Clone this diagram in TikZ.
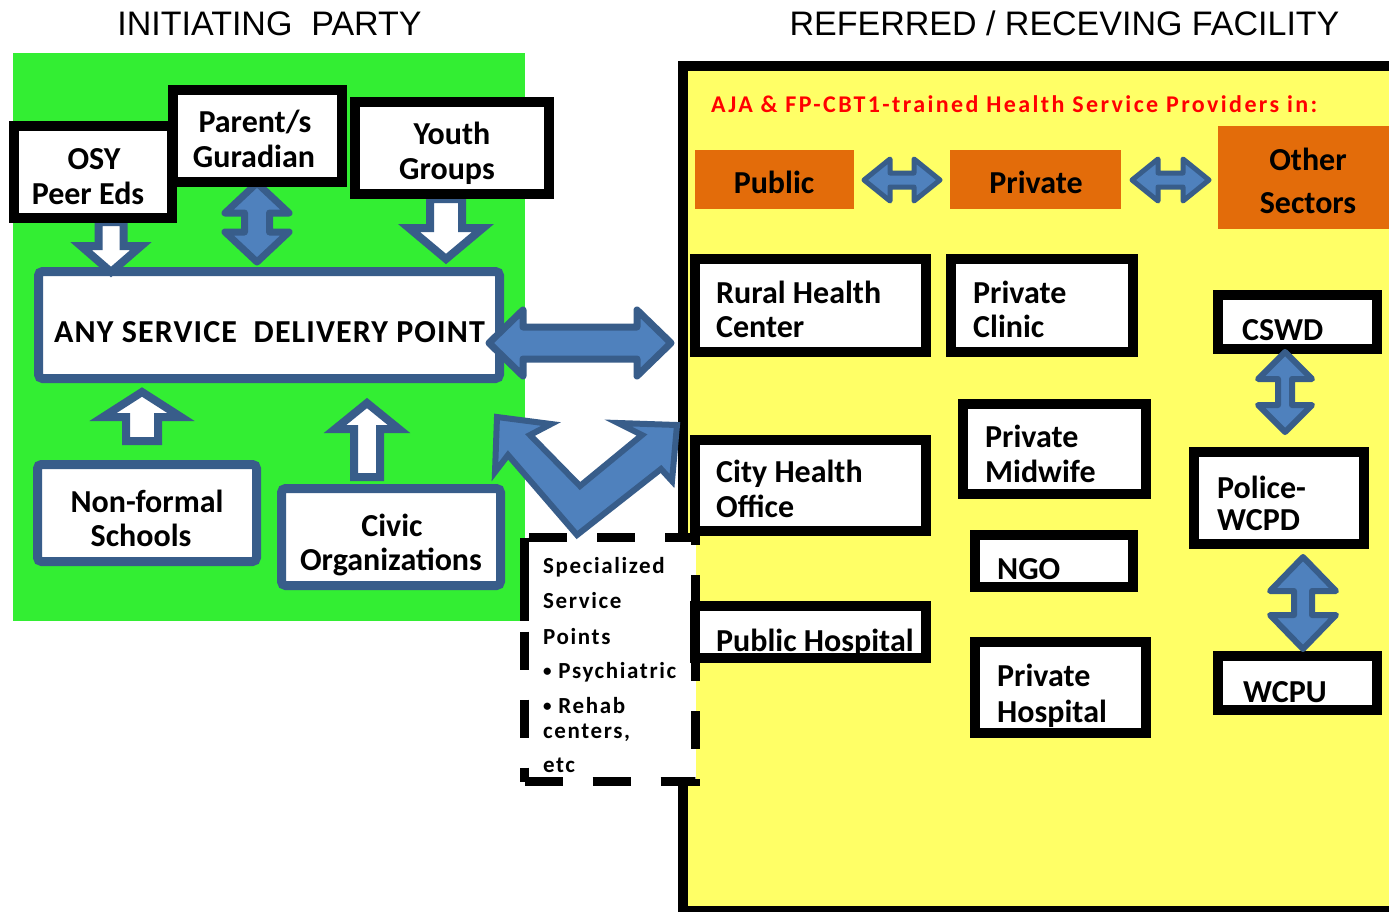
\documentclass[tikz,border=0pt]{standalone}
\usepackage{fontspec}
\setmainfont{Carlito}
\newfontfamily\titlefont{Liberation Sans}
\definecolor{grn}{RGB}{51,238,51}
\definecolor{ylw}{RGB}{255,255,102}
\definecolor{org}{RGB}{227,108,10}
\definecolor{abl}{RGB}{79,129,189}
\definecolor{aed}{RGB}{56,93,138}
% box: style, name, x1, y1, x2, y2 (path coordinates)
\newcommand\bx[6]{\node[#1, minimum width={#5-#3}, minimum height={#6-#4}] (#2) at ({(#3+#5)/2},{(#4+#6)/2}) {};}
% vertical double arrow: x, ytop, ybot, head half width, shaft half width, head length, style
\newcommand\vdbl[7]{\draw[#7] (#1,#2) -- ({#1+#4},{#2+#6}) -- ({#1+#5},{#2+#6}) -- ({#1+#5},{#3-#6}) -- ({#1+#4},{#3-#6}) -- (#1,#3) -- ({#1-#4},{#3-#6}) -- ({#1-#5},{#3-#6}) -- ({#1-#5},{#2+#6}) -- ({#1-#4},{#2+#6}) -- cycle;}
% horizontal double arrow: y, xleft, xright, hw, sw, hl, style
\newcommand\hdbl[7]{\draw[#7] (#2,#1) -- ({#2+#6},{#1-#4}) -- ({#2+#6},{#1-#5}) -- ({#3-#6},{#1-#5}) -- ({#3-#6},{#1-#4}) -- (#3,#1) -- ({#3-#6},{#1+#4}) -- ({#3-#6},{#1+#5}) -- ({#2+#6},{#1+#5}) -- ({#2+#6},{#1+#4}) -- cycle;}
% single vertical arrow: x, ystart, ytip, hw, sw, signed hl, style
\newcommand\sarr[7]{\draw[#7] ({#1-#5},#2) -- ({#1+#5},#2) -- ({#1+#5},{#3-(#6)}) -- ({#1+#4},{#3-(#6)}) -- (#1,#3) -- ({#1-#4},{#3-(#6)}) -- ({#1-#5},{#3-(#6)}) -- cycle;}
\newcommand\smbul{\raisebox{1.5pt}{\fontsize{17}{17}\selectfont •}}
\begin{document}
\begin{tikzpicture}[x=1pt,y=-1pt,
  blk/.style={draw=black, line width=10pt, fill=white, inner sep=0pt, outer sep=0pt},
  blu/.style={draw=aed, line width=9pt, fill=white, rounded corners=4pt, inner sep=0pt, outer sep=0pt},
  orng/.style={fill=org, inner sep=0pt, outer sep=0pt},
  dashbox/.style={draw=black, line width=9pt, fill=white, dash pattern=on 38pt off 30pt, inner sep=0pt},
  bt/.style={font=\fontsize{32}{34}\selectfont\bfseries, inner sep=0pt, anchor=base west},
  btc/.style={bt, anchor=base},
  spt/.style={font=\fontsize{23}{25}\selectfont\bfseries\addfontfeature{LetterSpace=7}, inner sep=0pt, anchor=base west},
  ttl/.style={font=\titlefont\fontsize{34}{36}\selectfont, inner sep=0pt, anchor=base},
  fillarr/.style={fill=abl, draw=aed, line width=6pt, line join=round},
  hollowarr/.style={fill=white, draw=aed, line width=8pt, line join=miter}
]
\useasboundingbox (0,0) rectangle (1389,911);
\fill[white] (0,0) rectangle (1389,911);

% backgrounds
\fill[grn] (13,53) rectangle (525,621);
\begin{scope}
  \clip (0,0) rectangle (1389,911);
  \draw[line width=10pt, fill=ylw] (683,66) rectangle (1420,911);
\end{scope}

% specialized service points (dashed)
\bx{dashbox}{spec}{524.5}{537.5}{695.5}{781.5}
\draw[line width=9pt] (524.5,537.5) -- (524.5,621);

% left side
\bx{blu}{asdp}{38.5}{271.5}{499.5}{378.5}
\sarr{111}{222}{272}{30}{12.5}{26}{hollowarr}
\sarr{446}{199}{259}{37}{16}{31}{hollowarr}
\sarr{142}{441}{392}{39}{16}{-25}{hollowarr}
\sarr{367}{477}{403}{32}{13}{-26}{hollowarr}
\vdbl{257}{183}{262}{32}{12.5}{30}{fillarr, line width=7pt}
\bx{blk}{osy}{14}{126}{172}{218}
\bx{blk}{parent}{173}{90}{342}{182}
\bx{blk}{youth}{355}{102}{549}{194}
\bx{blu}{nonformal}{37.5}{464.5}{256.5}{561.5}
\bx{blu}{civic}{281.5}{488.5}{500.5}{585.5}

% right side
\bx{orng}{public}{695}{150}{854}{209}
\bx{orng}{private}{950}{150}{1121}{209}
\bx{orng}{other}{1218}{126}{1395}{229}
\bx{blk}{rural}{695}{259}{926}{352}
\bx{blk}{pclinic}{951}{259}{1133}{352}
\bx{blk}{cswd}{1218}{295}{1377}{349}
\bx{blk}{city}{695}{440}{926}{531}
\bx{blk}{midwife}{963}{404}{1146}{494}
\bx{blk}{police}{1194}{452}{1364}{544}
\bx{blk}{ngo}{975}{535}{1133}{587}
\bx{blk}{pubhosp}{695}{606}{926}{658}
\bx{blk}{privhosp}{975}{642}{1146}{733}
\bx{blk}{wcpu}{1218}{656}{1377}{710}

% block arrows
\hdbl{343}{489}{671}{33}{16}{34}{fillarr, line width=7pt}
\hdbl{180}{864}{940}{21}{7}{26}{fillarr, line width=5pt}
\hdbl{180}{1132}{1209}{21}{7}{26}{fillarr, line width=5pt}
\vdbl{1285}{352}{432}{27}{7}{27}{fillarr}
\vdbl{1303}{557}{649}{33}{9}{34}{fillarr}
\draw[fillarr, line width=6pt, line join=miter]
  (497,417) -- (551,424) -- (530,435) -- (580,486) -- (642,435) -- (618,423)
  -- (677,425) -- (672,481) -- (661,469) -- (577,535) -- (508,455) -- (495,472) -- cycle;

% titles
\node[ttl] (t1) at (269.5,35) {INITIATING\ \ PARTY};
\node[ttl] (t2) at (1064.5,35) {REFERRED / RECEVING FACILITY};

% left texts
\node[btc] (osyA) at (94,169) {OSY};
\node[btc] (osyB) at (88,204) {Peer Eds};
\node[btc] (parA) at (255,132) {Parent/s};
\node[btc] (parB) at (254,167) {Guradian};
\node[btc] (youA) at (452,144) {Youth};
\node[btc] (youB) at (447,179) {Groups};
\node[bt, font=\fontsize{32}{34}\selectfont\bfseries\addfontfeature{LetterSpace=3.5}] (asdpT) at (54,342) {ANY SERVICE\ \ DELIVERY POINT};
\node[btc] (nfA) at (147,512) {Non-formal};
\node[btc] (nfB) at (141,546) {Schools};
\node[btc] (cvA) at (392,536) {Civic};
\node[btc] (cvB) at (391,570) {Organizations};

% specialized texts
\node[spt] (sp1) at (543,573) {Specialized};
\node[spt] (sp2) at (543,608) {Service};
\node[spt] (sp3) at (543,644) {Points};
\node[spt] (sp4) at (543,678) {\smbul\ Psychiatric};
\node[spt] (sp5) at (543,713) {\smbul\ Rehab};
\node[spt] (sp6) at (543,738) {centers,};
\node[spt] (sp7) at (543,772) {etc};

% right texts
\node[inner sep=0pt, anchor=base west, text=red, font=\fontsize{24}{26}\selectfont\bfseries\addfontfeature{LetterSpace=10}] (hdr) at (711,112) {AJA \& FP-CBT1-trained Health Service Providers in:};
\node[btc] (pubT) at (774,193) {Public};
\node[btc] (priT) at (1036,193) {Private};
\node[btc] (othA) at (1308,170) {Other};
\node[btc] (othB) at (1308,213) {Sectors};
\node[bt] (ruA) at (716,303) {Rural Health};
\node[bt] (ruB) at (716,337) {Center};
\node[bt] (pcA) at (973,303) {Private};
\node[bt] (pcB) at (973,337) {Clinic};
\node[bt] (csT) at (1242,340) {CSWD};
\node[bt] (ciA) at (716,482) {City Health};
\node[bt] (ciB) at (716,517) {Office};
\node[bt] (mwA) at (985,447) {Private};
\node[bt] (mwB) at (985,482) {Midwife};
\node[bt] (poA) at (1217,498) {Police-};
\node[bt] (poB) at (1217,530) {WCPD};
\node[bt] (ngT) at (997,579) {NGO};
\node[bt] (phT) at (716,651) {Public Hospital};
\node[bt] (pvA) at (997,686) {Private};
\node[bt] (pvB) at (997,722) {Hospital};
\node[bt] (wcT) at (1243,702) {WCPU};
\end{tikzpicture}
\end{document}
